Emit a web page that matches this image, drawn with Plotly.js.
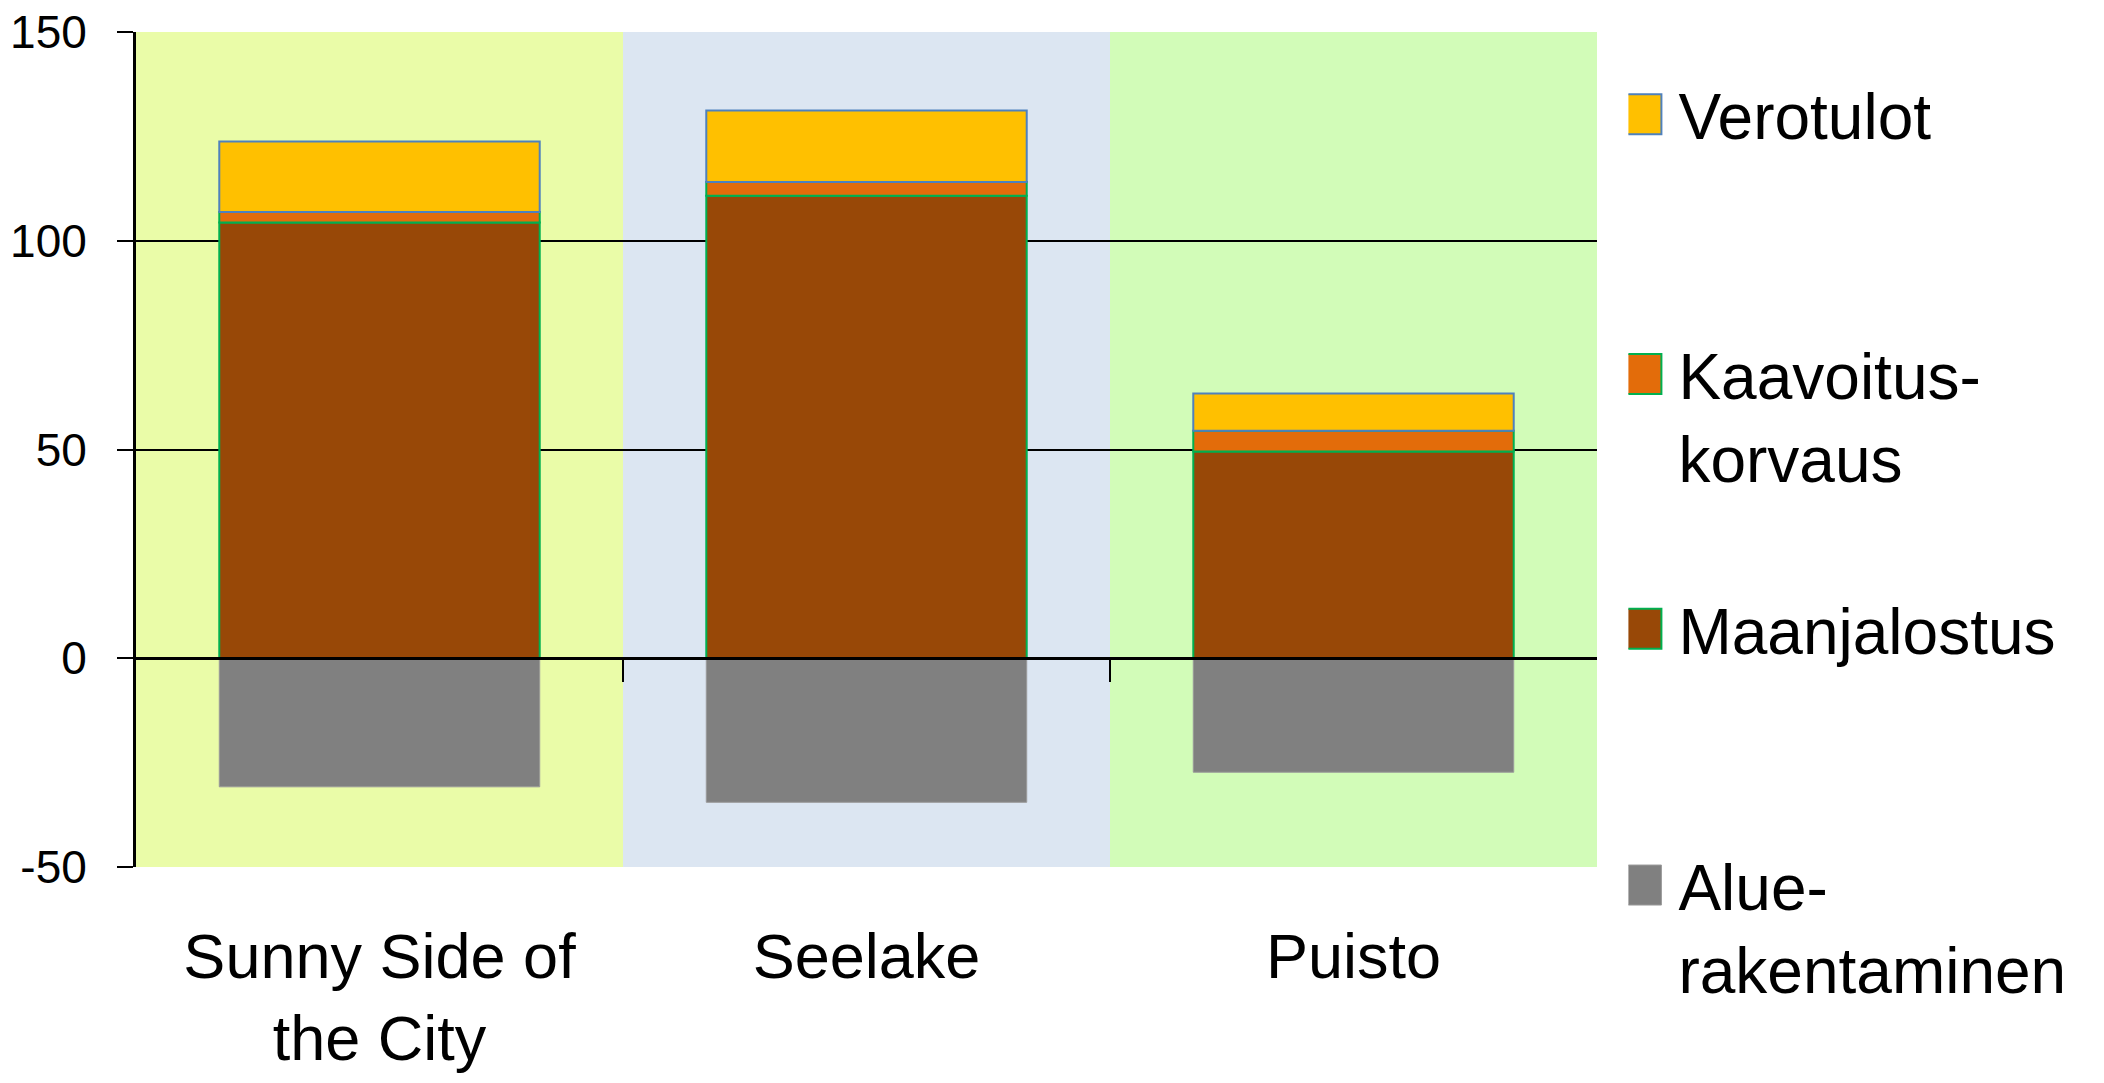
<!DOCTYPE html>
<html>
<head>
<meta charset="utf-8">
<script src="https://cdn.plot.ly/plotly-3.0.1.min.js"></script>
<style>
  html, body { margin: 0; padding: 0; background: #ffffff; }
  #chart { width: 2104px; height: 1083px; }
</style>
</head>
<body>
<div id="chart"></div>
<script>
// ---- data ----
const categories = ['Sunny Side of<br>the City', 'Seelake', 'Puisto'];
const seriesNames = ['Verotulot', 'Kaavoitus-<br>korvaus', 'Maanjalostus', 'Alue-<br>rakentaminen'];
const verotulot = [16.9, 17.1, 8.9];
const kaavoitusKorvaus = [2.5, 3.3, 5.0];
const maanjalostus = [104.4, 110.8, 49.5];
const alueRakentaminen = [-30.8, -34.5, -27.3];
const yTickValues = [-50, 0, 50, 100, 150];
const yTickLabels = ['-50', '0', '50', '100', '150'];

// ---- styles ----
const bandColors = ['#EAFCA8', '#DCE6F2', '#D2FCB8'];
const FONT = 'Liberation Sans, Arial, sans-serif';

function barTrace(name, values, fill, edge, edgeW, legendId) {
  return {
    type: 'bar', name: name, x: categories, y: values,
    marker: { color: fill, line: { color: edge, width: edgeW } },
    legend: legendId, hoverinfo: 'x+y+name'
  };
}

const categoryIndex = categories.map((c, i) => i);
const boundaries = categories.slice(1).map((c, i) => i + 0.5);

const traces = [
  barTrace(seriesNames[3], alueRakentaminen, '#808080', '#9a9a9a', 1, 'legend4'),
  barTrace(seriesNames[2], maanjalostus, '#984807', '#00B050', 2, 'legend3'),
  barTrace(seriesNames[1], kaavoitusKorvaus, '#E36C0A', '#00B050', 2, 'legend2'),
  barTrace(seriesNames[0], verotulot, '#FFC000', '#4F81BD', 2, 'legend'),
  { type: 'scatter', mode: 'none', x: categoryIndex, y: categoryIndex.map(() => 0),
    xaxis: 'x2', yaxis: 'y', showlegend: false, hoverinfo: 'skip' }
];

const shapes = categories.map((c, i) => ({
  type: 'rect', layer: 'below', xref: 'x', yref: 'y',
  x0: i - 0.5, x1: i + 0.5, y0: yTickValues[0], y1: yTickValues[yTickValues.length - 1],
  fillcolor: bandColors[i], line: { width: 0 }
}));

function legendBox(y) {
  return {
    x: 1.0215, xanchor: 'left', y: y, yanchor: 'top',
    bgcolor: 'rgba(0,0,0,0)', borderwidth: 0, valign: 'top',
    font: { family: FONT, size: 64, color: '#000' }, itemwidth: 40
  };
}

const layout = {
  width: 2104, height: 1083,
  margin: { l: 136, r: 507, t: 32, b: 216 },
  paper_bgcolor: '#ffffff', plot_bgcolor: 'rgba(0,0,0,0)',
  barmode: 'relative', bargap: 0.342,
  font: { family: FONT, color: '#000' },
  xaxis: {
    type: 'category', range: [-0.5, 2.5], showgrid: false, zeroline: false,
    showline: false, ticks: '', tickfont: { family: FONT, size: 63, color: '#000' },
    ticklabelstandoff: 47
  },
  xaxis2: {
    type: 'linear', overlaying: 'x', anchor: 'free', position: 0.25,
    range: [-0.5, 2.5], showline: true, linecolor: '#000', linewidth: 3,
    tickvals: boundaries, ticks: 'outside', ticklen: 22, tickwidth: 2, tickcolor: '#000',
    showticklabels: false, showgrid: false, zeroline: false, layer: 'above traces'
  },
  yaxis: {
    range: [-50, 150], tickvals: yTickValues, ticktext: yTickLabels,
    showgrid: true, gridcolor: '#000', gridwidth: 2,
    zeroline: false, showline: true, linecolor: '#000', linewidth: 3,
    ticks: 'outside', ticklen: 16, tickwidth: 2, tickcolor: '#000',
    tickfont: { family: FONT, size: 46, color: '#000' }, ticklabelstandoff: 21
  },
  shapes: shapes,
  legend: legendBox(0.959),
  legend2: legendBox(0.648),
  legend3: legendBox(0.343),
  legend4: legendBox(0.036)
};

function enlargeSwatches() {
  document.querySelectorAll('#chart .legendpoints path').forEach(p => {
    p.setAttribute('d', 'M8,20H-32V-20H8Z');
  });
}

const gd = document.getElementById('chart');
Plotly.newPlot(gd, traces, layout, { displayModeBar: false, responsive: false }).then(() => {
  enlargeSwatches();
  gd.on('plotly_afterplot', enlargeSwatches);
});
</script>
</body>
</html>
